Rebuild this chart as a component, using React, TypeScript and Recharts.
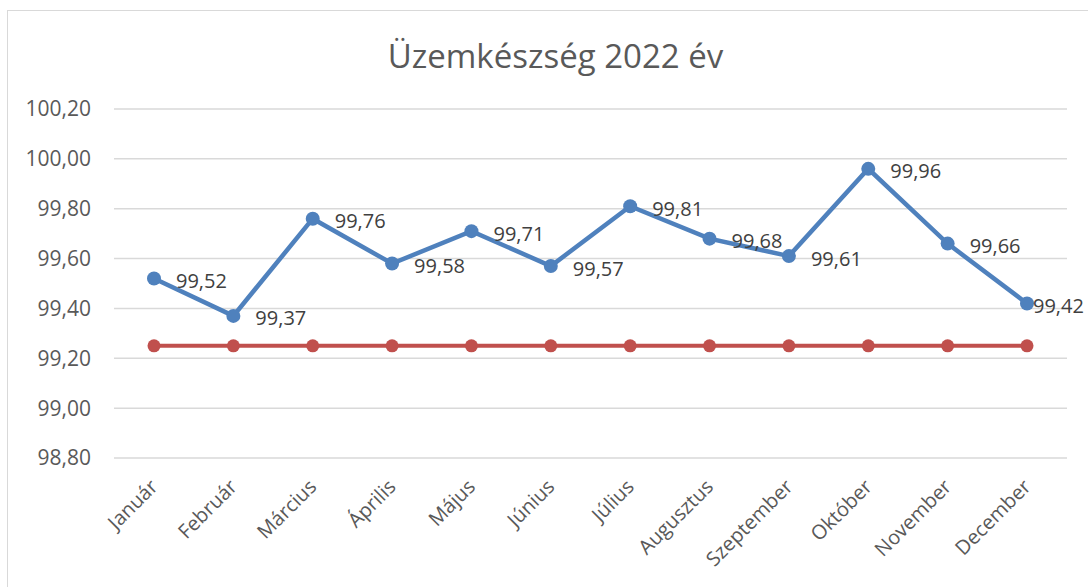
import { LineChart, Line, XAxis, YAxis, CartesianGrid } from 'recharts';

const months = ['Január', 'Február', 'Március', 'Április', 'Május', 'Június', 'Július', 'Augusztus', 'Szeptember', 'Október', 'November', 'December'];
const readiness = [99.52, 99.37, 99.76, 99.58, 99.71, 99.57, 99.81, 99.68, 99.61, 99.96, 99.66, 99.42];
const target = [99.25, 99.25, 99.25, 99.25, 99.25, 99.25, 99.25, 99.25, 99.25, 99.25, 99.25, 99.25];
const yTicks = [98.8, 99.0, 99.2, 99.4, 99.6, 99.8, 100.0, 100.2];

const data = months.map((m, i) => ({ month: m, value: readiness[i], target: target[i] }));

const FONT = '"Open Sans", "Liberation Sans", sans-serif';
const fmt = (v: number) => v.toFixed(2).replace('.', ',');

export default function App() {
  return (
    <div style={{ position: 'relative', width: 1088, height: 587, overflow: 'hidden', fontFamily: FONT }}>
      <style>{`body{margin:0;overflow:hidden}`}</style>
      <div style={{ position: 'absolute', left: 7, top: 10, width: 1110, height: 620, border: '1px solid #d9d9d9', background: '#fff' }}>
        <div style={{ position: 'absolute', left: 0, width: 1095, top: 22, textAlign: 'center', fontSize: 33, color: '#595959' }}>
          Üzemkészség 2022 év
        </div>
        <div style={{ position: 'absolute', left: 0, top: 0 }}>
          <LineChart width={1081} height={577} data={data} margin={{ top: 98, right: 22, left: 0, bottom: 0 }}>
            <CartesianGrid stroke="#d9d9d9" strokeWidth={1.5} vertical={false} />
            <XAxis
              dataKey="month"
              axisLine={false}
              tickLine={false}
              interval={0}
              height={130}
              padding={{ left: 40, right: 40 }}
              tick={<MonthTick />}
            />
            <YAxis
              domain={[98.8, 100.2]}
              ticks={yTicks}
              axisLine={false}
              tickLine={false}
              tickSize={6}
              tickMargin={17}
              width={106}
              tickFormatter={fmt}
              tick={{ fontSize: 21, fill: '#595959', fontFamily: FONT }}
            />
            <Line
              dataKey="target"
              stroke="#c0504d"
              strokeWidth={4}
              dot={{ r: 6.5, fill: '#c0504d', stroke: '#c0504d', strokeWidth: 0 }}
              isAnimationActive={false}
            />
            <Line
              dataKey="value"
              stroke="#4f81bd"
              strokeWidth={4.5}
              dot={{ r: 7, fill: '#4f81bd', stroke: '#4f81bd', strokeWidth: 0 }}
              label={<ValueLabel />}
              isAnimationActive={false}
            />
          </LineChart>
        </div>
      </div>
    </div>
  );
}

function MonthTick(props: any) {
  const { x, y, payload } = props;
  return (
    <g transform={`translate(${x + 5},${y + 22})`}>
      <text textAnchor="end" transform="rotate(-45)" fontSize={20} fill="#595959" fontFamily={FONT}>
        {payload.value}
      </text>
    </g>
  );
}

function ValueLabel(props: any) {
  const { x, y, value, index } = props;
  const dx = index === readiness.length - 1 ? 6 : 22;
  return (
    <text x={x + dx} y={y + 2} dominantBaseline="central" fontSize={20} fill="#404040" fontFamily={FONT}>
      {fmt(value)}
    </text>
  );
}
